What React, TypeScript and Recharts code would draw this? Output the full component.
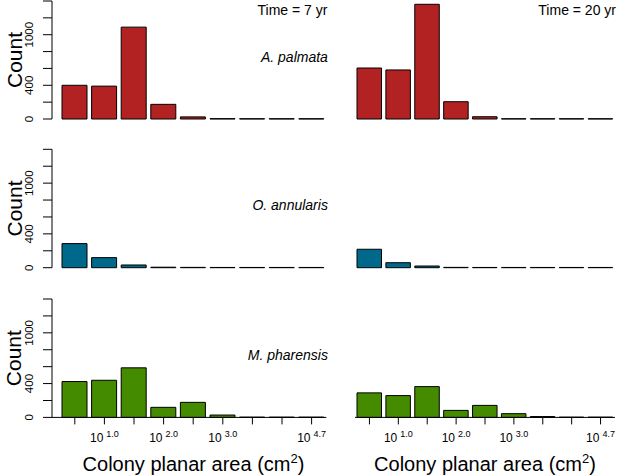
import React from "react";
import { BarChart, Bar, XAxis, YAxis } from "recharts";

const W = 617;
const H = 476;
const FONT = '"Liberation Sans", Arial, Helvetica, sans-serif';

// size classes (9 bins on a log10 area scale)
const bins = ["1", "2", "3", "4", "5", "6", "7", "8", "9"];
// exponent shown under each tick ("" = tick without label)
const tickExponents = ["", "1.0", "", "2.0", "", "3.0", "", "", "4.7"];
const yTicks = [0, 200, 400, 600, 800, 1000, 1200, 1400];
const yLabeled = [0, 400, 1000];

// counts per size class
const palmata7 = [400, 390, 1090, 174, 25, 4, 3, 3, 3];
const palmata20 = [605, 582, 1361, 205, 27, 3, 3, 3, 3];
const annularis7 = [285, 119, 32, 6, 4, 3, 3, 3, 3];
const annularis20 = [218, 59, 20, 4, 3, 3, 3, 3, 3];
const pharensis7 = [424, 439, 586, 119, 178, 28, 3, 3, 3];
const pharensis20 = [290, 258, 364, 83, 142, 44, 10, 3, 3];

const speciesNames = ["A. palmata", "O. annularis", "M. pharensis"];
const speciesColors = ["#B22222", "#00688B", "#458B00"];
const timeLabels = ["Time = 7 yr", "Time = 20 yr"];

const rows = [
  { name: speciesNames[0], color: speciesColors[0], values: [palmata7, palmata20], top: 1, zero: 119 },
  { name: speciesNames[1], color: speciesColors[1], values: [annularis7, annularis20], top: 149.3, zero: 267.7 },
  { name: speciesNames[2], color: speciesColors[2], values: [pharensis7, pharensis20], top: 299, zero: 417.4 },
];

const cols = [
  { label: timeLabels[0], left: 52, padLeft: 8, right: 326.4, yAxis: true, barSize: 25 },
  { label: timeLabels[1], left: 355, padLeft: 0, right: 615, yAxis: false, barSize: 24.5 },
];

const YTick = (props: any) => {
  const { y, payload } = props;
  if (!yLabeled.includes(payload.value)) return null;
  const bx = 33;
  return (
    <text
      x={bx}
      y={y}
      transform={`rotate(-90 ${bx} ${y})`}
      textAnchor="middle"
      fontSize={11.5}
      fontFamily={FONT}
      fill="#000"
    >
      {payload.value}
    </text>
  );
};

const XTick = (props: any) => {
  const { x, y, payload, index } = props;
  const idx = typeof index === "number" ? index : bins.indexOf(payload.value);
  const exp = tickExponents[idx];
  if (!exp) return null;
  return (
    <text x={x} y={y + 16} textAnchor="middle" fontFamily={FONT} fill="#000">
      <tspan fontSize={12}>10</tspan>
      <tspan fontSize={9} dx={3} dy={-5.5}>
        {exp}
      </tspan>
    </text>
  );
};

const X_AXIS_H = 30;

function Panel({ row, col, ci, bottom }: any) {
  const data = bins.map((b, i) => ({ bin: b, count: row.values[ci][i] }));
  const margin = {
    top: row.top,
    bottom: H - row.zero - (bottom ? X_AXIS_H : 0),
    left: col.yAxis ? 0 : col.left,
    right: W - col.right,
  };
  return (
    <div style={{ position: "absolute", left: 0, top: 0, width: W, height: H }}>
      <BarChart width={W} height={H} data={data} margin={margin}>
        <XAxis
          dataKey="bin"
          type="category"
          hide={!bottom}
          height={X_AXIS_H}
          padding={{ left: col.padLeft, right: 0 }}
          interval={0}
          tickSize={7}
          tickMargin={2}
          stroke="#000"
          axisLine={{ stroke: "#000", strokeWidth: 1 }}
          tickLine={{ stroke: "#000", strokeWidth: 1 }}
          tick={<XTick />}
        />
        <YAxis
          type="number"
          domain={[0, 1400]}
          ticks={yTicks}
          interval={0}
          hide={!col.yAxis}
          width={col.left}
          tickSize={9}
          stroke="#000"
          axisLine={{ stroke: "#000", strokeWidth: 1 }}
          tickLine={{ stroke: "#000", strokeWidth: 1 }}
          tick={<YTick />}
        />
        <Bar
          dataKey="count"
          fill={row.color}
          stroke="#000"
          strokeWidth={1}
          barSize={col.barSize}
          isAnimationActive={false}
        />
      </BarChart>
    </div>
  );
}

export default function App() {
  return (
    <div style={{ position: "absolute", left: 0, top: 0, width: W, height: H, background: "#fff", overflow: "hidden" }}>
      {rows.map((row, ri) =>
        cols.map((col, ci) => (
          <Panel key={`${ri}-${ci}`} row={row} col={col} ci={ci} bottom={ri === rows.length - 1} />
        ))
      )}
      <svg
        width={W}
        height={H}
        style={{ position: "absolute", left: 0, top: 0, pointerEvents: "none" }}
        fontFamily={FONT}
      >
        {cols.map((col, ci) => (
          <text key={`t${ci}`} x={col.right + 1} y={14.5} textAnchor="end" fontSize={14} fill="#000">
            {col.label}
          </text>
        ))}
        {rows.map((row, ri) => (
          <g key={`r${ri}`}>
            <text
              x={cols[0].right + 1.5}
              y={row.zero - 57.3}
              textAnchor="end"
              fontSize={14}
              fontStyle="italic"
              fill="#000"
            >
              {row.name}
            </text>
            <text
              x={21.5}
              y={(row.top + row.zero) / 2}
              transform={`rotate(-90 21.5 ${(row.top + row.zero) / 2})`}
              textAnchor="middle"
              fontSize={21}
              fill="#000"
            >
              Count
            </text>
          </g>
        ))}
        {cols.map((col, ci) => (
          <text
            key={`x${ci}`}
            x={ci === 0 ? 193.5 : 485}
            y={470.7}
            textAnchor="middle"
            fontSize={20}
            fill="#000"
          >
            Colony planar area (cm
            <tspan fontSize={13} dy={-8}>
              2
            </tspan>
            <tspan dy={8}>)</tspan>
          </text>
        ))}
      </svg>
    </div>
  );
}
